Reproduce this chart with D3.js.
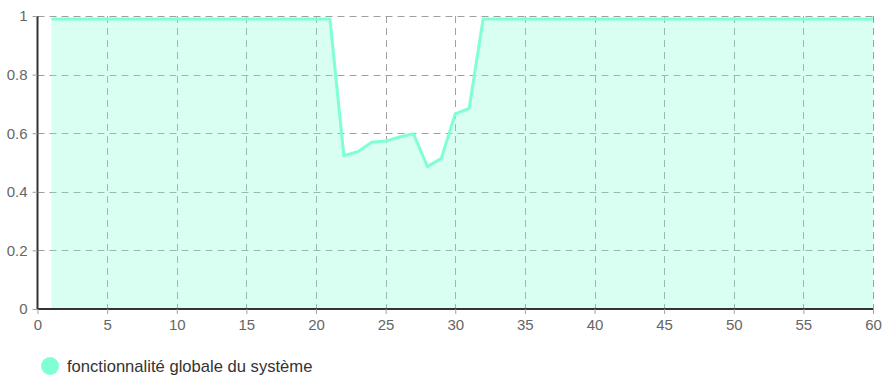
<!DOCTYPE html>
<html>
<head>
  <meta charset="utf-8" />
  <script src="https://cdn.jsdelivr.net/npm/d3@7"></script>
  <style>
    body { margin: 0; background: #fff; }
    text { font-family: "Liberation Sans", Arial, sans-serif; }
  </style>
</head>
<body>
<div id="chart"></div>
<script>
  // données
  var steps = d3.range(1, 61);
  var values = [
    0.99, 0.99, 0.99, 0.99, 0.99, 0.99, 0.99, 0.99, 0.99, 0.99,
    0.99, 0.99, 0.99, 0.99, 0.99, 0.99, 0.99, 0.99, 0.99, 0.99,
    0.99, 0.523, 0.537, 0.569, 0.573, 0.587, 0.598, 0.486, 0.514, 0.666,
    0.685, 0.99, 0.99, 0.99, 0.99, 0.99, 0.99, 0.99, 0.99, 0.99,
    0.99, 0.99, 0.99, 0.99, 0.99, 0.99, 0.99, 0.99, 0.99, 0.99,
    0.99, 0.99, 0.99, 0.99, 0.99, 0.99, 0.99, 0.99, 0.99, 0.99
  ];
  var xTicks = [0, 5, 10, 15, 20, 25, 30, 35, 40, 45, 50, 55, 60];
  var yTicks = [0, 0.2, 0.4, 0.6, 0.8, 1];
  var seriesName = "fonctionnalité globale du système";

  var W = 884, H = 376;
  var m = { left: 37.5, right: 873, top: 16, bottom: 309 };

  var svg = d3.select("#chart").append("svg")
    .attr("width", W)
    .attr("height", H);

  var x = d3.scaleLinear().domain([0, 60]).range([m.left, m.right]);
  var y = d3.scaleLinear().domain([0, 1]).range([m.bottom, m.top]);

  var data = steps.map(function (s, i) { return { x: s, y: values[i] }; });

  // grille
  var grid = svg.append("g")
    .attr("stroke", "#a0a0a0")
    .attr("stroke-dasharray", "7,5")
    .attr("stroke-width", 1);

  grid.selectAll(".h").data(yTicks.slice(1)).enter().append("line")
    .attr("x1", m.left).attr("x2", m.right)
    .attr("y1", function (d) { return Math.round(y(d)) + 0.5; })
    .attr("y2", function (d) { return Math.round(y(d)) + 0.5; });

  grid.selectAll(".v").data(xTicks.slice(1)).enter().append("line")
    .attr("y1", m.top).attr("y2", m.bottom)
    .attr("x1", function (d) { return Math.round(x(d)) + 0.5; })
    .attr("x2", function (d) { return Math.round(x(d)) + 0.5; });

  // aire + ligne
  var area = d3.area()
    .x(function (d) { return x(d.x); })
    .y0(y(0))
    .y1(function (d) { return y(d.y); });

  var line = d3.line()
    .x(function (d) { return x(d.x); })
    .y(function (d) { return y(d.y); });

  svg.append("path")
    .datum(data)
    .attr("fill", "#7fffd4")
    .attr("fill-opacity", 0.3)
    .attr("d", area);

  svg.append("path")
    .datum(data)
    .attr("fill", "none")
    .attr("stroke", "#7fffd4")
    .attr("stroke-width", 3)
    .attr("stroke-linejoin", "round")
    .attr("d", line);

  // axes
  var xAxis = svg.append("g")
    .attr("transform", "translate(0," + m.bottom + ")")
    .call(d3.axisBottom(x).tickValues(xTicks).tickSize(5).tickPadding(5));

  var yAxis = svg.append("g")
    .attr("transform", "translate(" + m.left + ",0)")
    .call(d3.axisLeft(y).tickValues(yTicks).tickFormat(d3.format("~g")).tickSize(5).tickPadding(5));

  [xAxis, yAxis].forEach(function (g) {
    g.select(".domain").attr("stroke", "#333").attr("stroke-width", 2);
    g.selectAll(".tick line").attr("stroke", "#a0a0a0").attr("stroke-dasharray", "7,5");
    g.selectAll(".tick text").attr("fill", "#666").style("font-size", "15px");
  });
  xAxis.select(".domain").attr("d", "M" + m.left + ",0H" + m.right);
  yAxis.select(".domain").attr("d", "M0," + m.top + "V" + m.bottom);

  // légende
  var legend = svg.append("g").attr("transform", "translate(50,366)");
  legend.append("circle").attr("r", 9).attr("fill", "#7fffd4");
  legend.append("text")
    .attr("x", 17).attr("y", 0)
    .attr("dy", "0.35em")
    .attr("fill", "#333")
    .style("font-size", "16.6px")
    .text(seriesName);
</script>
</body>
</html>
